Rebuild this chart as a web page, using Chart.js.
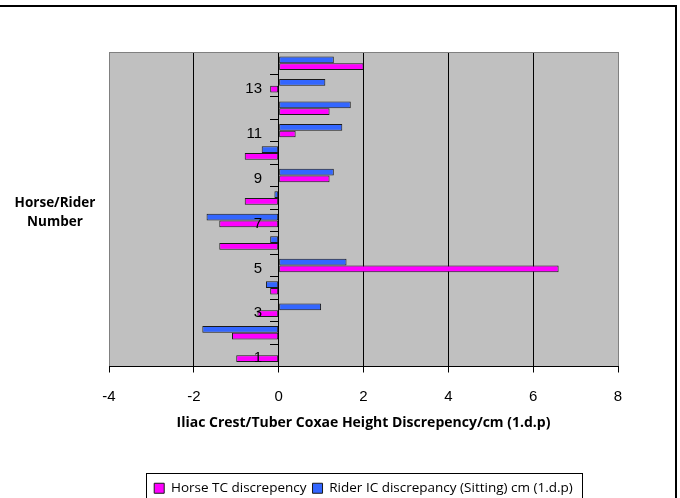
<!DOCTYPE html>
<html>
<head>
<meta charset="utf-8">
<script src="https://cdn.jsdelivr.net/npm/chart.js@4"></script>
<style>
  html, body { margin: 0; padding: 0; background: #fff; }
</style>
</head>
<body>
<canvas id="grafico" width="680" height="498"></canvas>
<script>
// categorias (número do cavalo/cavaleiro) e valores
const numeros = ['1','2','3','4','5','6','7','8','9','10','11','12','13','14'];
const horseTC = [-1.0, -1.1, -0.5, -0.2, 6.6, -1.4, -1.4, -0.8, 1.2, -0.8, 0.4, 1.2, -0.2, 2.0];
const riderIC = [0, -1.8, 1.0, -0.3, 1.6, -0.2, -1.7, -0.1, 1.3, -0.4, 1.5, 1.7, 1.1, 1.3];
const xTicks = [-4, -2, 0, 2, 4, 6, 8];

const tituloX = 'Iliac Crest/Tuber Coxae Height Discrepency/cm (1.d.p)';
const tituloY = ['Horse/Rider', 'Number'];

// fundo cinza da área do gráfico + moldura
const fundoPlugin = {
    id: 'fundo',
    beforeDraw(chart) {
        const { ctx, chartArea: a } = chart;
        ctx.save();
        ctx.fillStyle = '#c0c0c0';
        ctx.fillRect(a.left, a.top, a.right - a.left, a.bottom - a.top);
        ctx.restore();
    },
    afterDraw(chart) {
        const { ctx, chartArea: a } = chart;
        ctx.save();
        // borda superior da área
        ctx.strokeStyle = '#808080';
        ctx.lineWidth = 1;
        ctx.beginPath();
        ctx.moveTo(a.left, a.top + 0.5);
        ctx.lineTo(a.right, a.top + 0.5);
        ctx.stroke();

        // moldura externa (topo e direita)
        ctx.strokeStyle = '#000';
        ctx.lineWidth = 2;
        ctx.beginPath();
        ctx.moveTo(0, 6);
        ctx.lineTo(676, 6);
        ctx.lineTo(676, 498);
        ctx.stroke();

        // título do eixo Y na horizontal
        ctx.fillStyle = '#000';
        ctx.font = 'bold 13.5px "Open Sans"';
        ctx.textAlign = 'center';
        ctx.textBaseline = 'middle';
        ctx.fillText(tituloY[0], 55, 203);
        ctx.fillText(tituloY[1], 55, 222);

        // caixa da legenda
        const lg = chart.legend;
        if (lg && lg.legendHitBoxes.length) {
            const boxes = lg.legendHitBoxes;
            const x1 = boxes[0].left - 8;
            const last = boxes[boxes.length - 1];
            const x2 = last.left + last.width + 9;
            ctx.strokeStyle = '#000';
            ctx.lineWidth = 1;
            ctx.strokeRect(Math.round(x1) + 0.5, 473.5, Math.round(x2 - x1), 30);
        }
        ctx.restore();
    }
};

const ctx = document.getElementById('grafico');
new Chart(ctx, {
    type: 'bar',
    data: {
        labels: numeros,
        datasets: [
            {
                label: 'Rider IC discrepancy (Sitting) cm (1.d.p)',
                data: riderIC,
                backgroundColor: '#3366ff',
                borderColor: '#1a1a1a',
                borderWidth: 1,
                borderSkipped: false
            },
            {
                label: 'Horse TC discrepency',
                data: horseTC,
                backgroundColor: '#ff00ff',
                borderColor: '#1a1a1a',
                borderWidth: 1,
                borderSkipped: false
            }
        ]
    },
    options: {
        indexAxis: 'y',
        responsive: false,
        animation: false,
        devicePixelRatio: 1,
        layout: { padding: { top: 52, left: 109, right: 62, bottom: -7 } },
        datasets: { bar: { categoryPercentage: 0.6, barPercentage: 1 } },
        scales: {
            x: {
                type: 'linear',
                min: -4, max: 8,
                afterBuildTicks: s => { s.ticks = xTicks.map(v => ({ value: v })); },
                grid: {
                    color: c => (c.tick && (c.tick.value === -4 || c.tick.value === 8)) ? '#808080' : '#000',
                    tickColor: '#000',
                    tickLength: 6,
                    lineWidth: 1
                },
                border: { color: '#000', width: 1 },
                ticks: {
                    color: '#000',
                    font: { family: 'Liberation Sans', size: 15 },
                    padding: 15
                },
                title: {
                    display: true,
                    text: tituloX,
                    color: '#000',
                    font: { family: 'Open Sans', size: 14, weight: 'bold' },
                    padding: { top: 10, bottom: 44 }
                },
                afterFit: s => { s.height = 109; }
            },
            y: {
                type: 'category',
                reverse: true,
                position: { x: 0 },
                offset: true,
                grid: {
                    drawOnChartArea: false,
                    offset: true,
                    color: '#000',
                    tickLength: 8,
                    z: 1
                },
                border: { color: '#000', width: 1, z: 1 },
                ticks: {
                    autoSkip: false,
                    color: '#000',
                    labelOffset: 3,
                    z: 1,
                    font: { family: 'Liberation Sans', size: 15 },
                    callback: function(v, i) { return i % 2 === 0 ? this.getLabelForValue(v) + '    ' : ''; }
                }
            }
        },
        plugins: {
            legend: {
                position: 'bottom',
                reverse: true,
                labels: {
                    color: '#000',
                    font: { family: 'Open Sans', size: 13.5 },
                    boxWidth: 10,
                    boxHeight: 10,
                    padding: 6
                }
            },
            tooltip: { enabled: false }
        }
    },
    plugins: [fundoPlugin]
});
</script>
</body>
</html>
